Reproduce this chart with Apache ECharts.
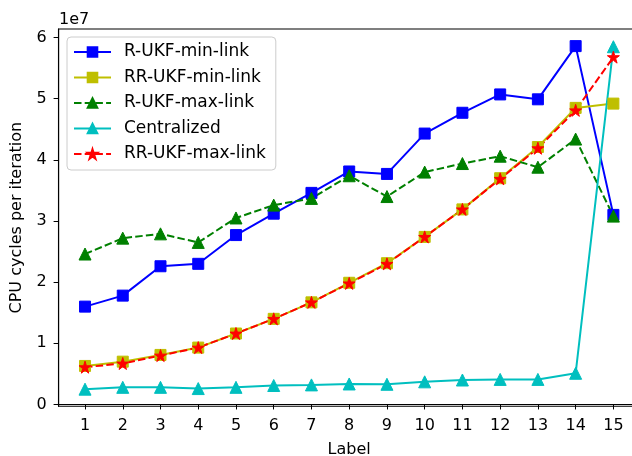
<!DOCTYPE html>
<html>
<head>
<meta charset="utf-8">
<script src="https://cdn.jsdelivr.net/npm/echarts@6/dist/echarts.min.js"></script>
<style>
  html, body { margin: 0; padding: 0; background: #ffffff; }
  #chart { width: 632px; height: 456px; }
</style>
</head>
<body>
<div id="chart"></div>
<script>
// Network sizes along the x axis
const labels = [1, 2, 3, 4, 5, 6, 7, 8, 9, 10, 11, 12, 13, 14, 15];
const yTicks = [0, 1, 2, 3, 4, 5, 6];

// CPU cycles per iteration, in units of 1e7
const rUkfMinLink  = [1.60, 1.78, 2.26, 2.30, 2.77, 3.12, 3.46, 3.81, 3.77, 4.43, 4.77, 5.07, 4.99, 5.86, 3.10];
const rrUkfMinLink = [0.63, 0.70, 0.81, 0.93, 1.16, 1.40, 1.67, 1.99, 2.31, 2.74, 3.19, 3.70, 4.21, 4.85, 4.92];
const rUkfMaxLink  = [2.46, 2.72, 2.79, 2.65, 3.05, 3.26, 3.37, 3.74, 3.40, 3.80, 3.94, 4.06, 3.88, 4.34, 3.08];
const centralized  = [0.25, 0.28, 0.28, 0.26, 0.28, 0.31, 0.32, 0.335, 0.33, 0.37, 0.40, 0.41, 0.41, 0.51, 5.85];
const rrUkfMaxLink = [0.61, 0.67, 0.80, 0.93, 1.16, 1.40, 1.67, 1.98, 2.30, 2.74, 3.19, 3.69, 4.19, 4.81, 5.68];

const FONT = 'DejaVu Sans';
const STAR = 'path://M0,-1 L0.2245,-0.309 L0.951,-0.309 L0.363,0.118 L0.588,0.809 L0,0.382 L-0.588,0.809 L-0.363,0.118 L-0.951,-0.309 L-0.2245,-0.309 Z';
const DASH = [7.5, 3.2];

function pairs(values) {
  return values.map((v, i) => [labels[i], v]);
}

function lineSeries(name, values, color, symbol, size, dashed) {
  return {
    name: name,
    type: 'line',
    data: pairs(values),
    symbol: symbol,
    symbolSize: size,
    showAllSymbol: true,
    animation: false,
    lineStyle: { color: color, width: 2, type: dashed ? DASH : 'solid' },
    itemStyle: { color: color, borderColor: color, borderWidth: 1 },
    emphasis: { disabled: true }
  };
}

const chart = echarts.init(document.getElementById('chart'), null, { renderer: 'canvas' });

chart.setOption({
  backgroundColor: '#ffffff',
  animation: false,
  textStyle: { fontFamily: FONT },
  grid: {
    left: 58.6, top: 29, width: 581.2, bottom: 49.7,
    outerBoundsMode: 'none',
    containLabel: false,
    show: true, borderColor: '#000000', borderWidth: 1.1, backgroundColor: 'transparent'
  },
  xAxis: {
    type: 'value',
    min: 0.3,
    max: 15.7,
    name: 'Label',
    nameLocation: 'middle',
    nameGap: 36,
    nameTextStyle: { fontFamily: FONT, fontSize: 16, color: '#000000' },
    splitLine: { show: false },
    axisLine: { show: true, lineStyle: { color: '#000000', width: 1.1 } },
    axisTick: { show: true, length: 5, lineStyle: { color: '#000000', width: 1 }, customValues: labels },
    axisLabel: { fontFamily: FONT, fontSize: 16, color: '#000000', margin: 12, customValues: labels, formatter: v => String(v) }
  },
  yAxis: {
    type: 'value',
    min: -0.03,
    max: 6.14,
    name: 'CPU cycles per iteration',
    nameLocation: 'middle',
    nameGap: 34,
    nameRotate: 90,
    nameTextStyle: { fontFamily: FONT, fontSize: 16, color: '#000000' },
    splitLine: { show: false },
    axisLine: { show: true, lineStyle: { color: '#000000', width: 1.1 } },
    axisTick: { show: true, length: 5, lineStyle: { color: '#000000', width: 1 }, customValues: yTicks },
    axisLabel: { fontFamily: FONT, fontSize: 16, color: '#000000', margin: 12, customValues: yTicks, formatter: v => String(v) }
  },
  legend: {
    orient: 'vertical',
    left: 67,
    top: 37,
    padding: [6.5, 10, 7.5, 6],
    itemGap: 8.5,
    itemWidth: 37,
    itemHeight: 12,
    backgroundColor: 'rgba(255,255,255,0.8)',
    borderColor: '#cccccc',
    borderWidth: 1,
    borderRadius: 4,
    selectedMode: false,
    textStyle: { fontFamily: FONT, fontSize: 17, color: '#000000', padding: [0, 0, 0, 8] },
    data: ['R-UKF-min-link', 'RR-UKF-min-link', 'R-UKF-max-link', 'Centralized', 'RR-UKF-max-link']
  },
  graphic: [{
    type: 'text',
    left: 59,
    top: 12,
    style: { text: '1e7', font: '16px "DejaVu Sans"', fill: '#000000' }
  }],
  series: [
    lineSeries('R-UKF-min-link', rUkfMinLink, '#0000ff', 'rect', 11, false),
    lineSeries('RR-UKF-min-link', rrUkfMinLink, '#bfbf00', 'rect', 11, false),
    lineSeries('R-UKF-max-link', rUkfMaxLink, '#008000', 'triangle', 12, true),
    lineSeries('Centralized', centralized, '#00bfbf', 'triangle', 12, false),
    lineSeries('RR-UKF-max-link', rrUkfMaxLink, '#ff0000', STAR, 12, true)
  ]
});
</script>
</body>
</html>
